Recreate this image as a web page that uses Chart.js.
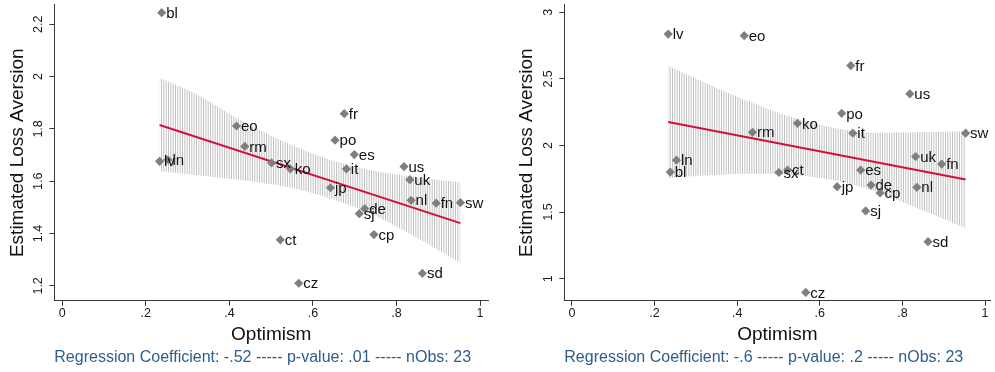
<!DOCTYPE html>
<html><head><meta charset="utf-8">
<script src="https://cdn.jsdelivr.net/npm/chart.js@4.4.0/dist/chart.umd.min.js"></script>
<style>
html,body{margin:0;padding:0;background:#fff;}
#wrap{position:relative;width:995px;height:372px;overflow:hidden;}
.box{position:absolute;top:0;height:372px;}
#b1{left:0;width:497px;} #b2{left:497px;width:498px;}
canvas{display:block;}
</style></head><body>
<div id="wrap"><div class="box" id="b1"><canvas id="c1" width="497" height="372"></canvas></div><div class="box" id="b2"><canvas id="c2" width="498" height="372"></canvas></div></div>
<script>
// ---------- data ----------
const countries = ['bl','eo','rm','fr','po','es','lv','ln','sx','ko','it','us','uk','jp','nl','fn','sw','de','sj','cp','ct','sd','cz'];
const optimism  = [0.238,0.417,0.437,0.675,0.653,0.699,0.233,0.253,0.501,0.546,0.680,0.818,0.832,0.642,0.835,0.895,0.953,0.724,0.711,0.746,0.522,0.862,0.566];
const lossAversion1 = [2.244,1.811,1.733,1.858,1.757,1.702,1.676,1.682,1.670,1.647,1.647,1.656,1.606,1.575,1.527,1.516,1.518,1.495,1.476,1.396,1.376,1.248,1.210];
const lossAversion2 = [1.800,2.824,2.099,2.600,2.241,1.815,2.836,1.890,1.797,2.166,2.092,2.388,1.917,1.691,1.686,1.860,2.092,1.703,1.509,1.644,1.815,1.278,0.897];

const fitX  = [0.233, 0.953];
const fit1  = [1.815, 1.440];
const fit2  = [2.176, 1.744];

const bandX      = [0.233, 0.33, 0.43, 0.53, 0.63, 0.73, 0.83, 0.953];
const bandUpper1 = [1.995, 1.925, 1.830, 1.752, 1.688, 1.645, 1.619, 1.595];
const bandLower1 = [1.638, 1.622, 1.604, 1.581, 1.540, 1.482, 1.400, 1.287];
const bandUpper2 = [2.596, 2.460, 2.328, 2.215, 2.134, 2.096, 2.099, 2.107];
const bandLower2 = [1.756, 1.776, 1.788, 1.781, 1.742, 1.660, 1.537, 1.381];

const xTicks = [0, 0.2, 0.4, 0.6, 0.8, 1];
const xTickLabels = ['0', '.2', '.4', '.6', '.8', '1'];
const yTicks1 = [1.2, 1.4, 1.6, 1.8, 2, 2.2];
const yTickLabels1 = ['1.2', '1.4', '1.6', '1.8', '2', '2.2'];
const yTicks2 = [1, 1.5, 2, 2.5, 3];
const yTickLabels2 = ['1', '1.5', '2', '2.5', '3'];

const footnote1 = 'Regression Coefficient: -.52 ----- p-value: .01 ----- nObs: 23';
const footnote2 = 'Regression Coefficient: -.6 ----- p-value: .2 ----- nObs: 23';

// ---------- rendering ----------
Chart.defaults.font.family = '"Liberation Sans", Arial, Helvetica, sans-serif';
Chart.defaults.color = '#1a1a1a';
const TICK_FONT = '12.5px "Liberation Sans", Arial, sans-serif';

function hatchPattern() {
  const c = document.createElement('canvas');
  c.width = 7; c.height = 8;
  const g = c.getContext('2d');
  g.fillStyle = '#c2c2c2';
  g.fillRect(0, 0, 1, 8);
  g.fillRect(2.33, 0, 1, 8);
  g.fillRect(4.67, 0, 1, 8);
  return document.createElement('canvas').getContext('2d').createPattern(c, 'repeat');
}

const pointLabels = {
  id: 'pointLabels',
  afterDatasetsDraw(chart) {
    const ctx = chart.ctx;
    const idx = chart.data.datasets.findIndex(d => d.isPoints);
    const meta = chart.getDatasetMeta(idx);
    ctx.save();
    ctx.font = '15px "Liberation Sans", Arial, sans-serif';
    ctx.fillStyle = '#111';
    ctx.textAlign = 'left';
    ctx.textBaseline = 'middle';
    meta.data.forEach((el, i) => {
      ctx.fillText(countries[i], el.x + 4.5, el.y + 1);
    });
    ctx.restore();
  }
};

const tickLabelPlugin = {
  id: 'tickLabelPlugin',
  afterDraw(chart) {
    const ys = chart.scales.y, xs = chart.scales.x;
    const opts = chart.options.plugins.tickLabelPlugin;
    const ctx = chart.ctx;
    ctx.save();
    ctx.font = TICK_FONT;
    ctx.fillStyle = '#1a1a1a';
    ctx.textAlign = 'center';
    ctx.textBaseline = 'middle';
    ys.ticks.forEach((t, i) => {
      const y = ys.getPixelForValue(t.value);
      ctx.save();
      ctx.translate(ys.right - 16, y);
      ctx.rotate(-Math.PI / 2);
      ctx.fillText(opts.yLabels[i], 0, 0);
      ctx.restore();
    });
    xs.ticks.forEach((t, i) => {
      const x = xs.getPixelForValue(t.value);
      ctx.fillText(xTickLabels[i], x, xs.top + 13);
    });
    ctx.restore();
  }
};

function makeChart(canvasId, vals, fitY, up, lo, yTicks, yLabels, yMin, yMax, xMin, xMax, pad, yWidth, foot) {
  const pts = optimism.map((x, i) => ({x: x, y: vals[i]}));
  const pattern = hatchPattern();
  return new Chart(document.getElementById(canvasId), {
    type: 'scatter',
    data: {
      datasets: [
        {type: 'scatter', isPoints: true, data: pts, pointStyle: 'rectRot', pointRadius: 4.6,
         pointBackgroundColor: '#7f7f7f', pointBorderWidth: 0, borderWidth: 0, order: 0},
        {type: 'line', data: fitX.map((x, i) => ({x: x, y: fitY[i]})), borderColor: '#d3103c',
         borderWidth: 2, pointRadius: 0, fill: false, order: 1},
        {type: 'line', data: bandX.map((x, i) => ({x: x, y: up[i]})), borderWidth: 0, borderColor: 'rgba(0,0,0,0)',
         pointRadius: 0, backgroundColor: pattern, fill: '+1', cubicInterpolationMode: 'monotone', order: 2},
        {type: 'line', data: bandX.map((x, i) => ({x: x, y: lo[i]})), borderWidth: 0, borderColor: 'rgba(0,0,0,0)',
         pointRadius: 0, fill: false, cubicInterpolationMode: 'monotone', order: 3}
      ]
    },
    options: {
      responsive: false,
      animation: false,
      events: [],
      layout: {padding: pad},
      plugins: {
        legend: {display: false},
        tooltip: {enabled: false},
        title: {display: true, position: 'bottom', align: 'start', fullSize: false, text: foot,
                color: '#2e5d8c', font: {size: 16, weight: 'normal'}, padding: {top: 0, bottom: 5}},
        tickLabelPlugin: {yLabels: yLabels}
      },
      scales: {
        x: {
          type: 'linear', min: xMin, max: xMax,
          afterBuildTicks: s => { s.ticks = xTicks.map(v => ({value: v})); },
          afterFit: s => { s.height = 47; },
          ticks: {display: false},
          grid: {display: true, drawOnChartArea: false, drawTicks: true, tickLength: 5, color: '#3a3a3a'},
          border: {display: true, color: '#3a3a3a', width: 1},
          title: {display: true, text: 'Optimism', font: {size: 19}, color: '#111', padding: {top: 0, bottom: 2}}
        },
        y: {
          type: 'linear', min: yMin, max: yMax,
          afterBuildTicks: s => { s.ticks = yTicks.map(v => ({value: v})); },
          afterFit: s => { s.width = yWidth; },
          ticks: {display: false},
          grid: {display: true, drawOnChartArea: false, drawTicks: true, tickLength: 5, color: '#3a3a3a'},
          border: {display: true, color: '#3a3a3a', width: 1},
          title: {display: true, text: 'Estimated Loss Aversion', font: {size: 19}, color: '#111', padding: {top: 6, bottom: 0}}
        }
      }
    },
    plugins: [pointLabels, tickLabelPlugin]
  });
}

makeChart('c1', lossAversion1, fit1, bandUpper1, bandLower1, yTicks1, yTickLabels1,
          1.143, 2.275, -0.019, 1.019, {left: 0, right: 9, top: 3, bottom: 0}, 54.3, footnote1);
makeChart('c2', lossAversion2, fit2, bandUpper2, bandLower2, yTicks2, yTickLabels2,
          0.834, 3.0575, -0.0185, 1.013, {left: 12, right: 0, top: 3, bottom: 0}, 55.3, footnote2);
</script>
</body></html>
